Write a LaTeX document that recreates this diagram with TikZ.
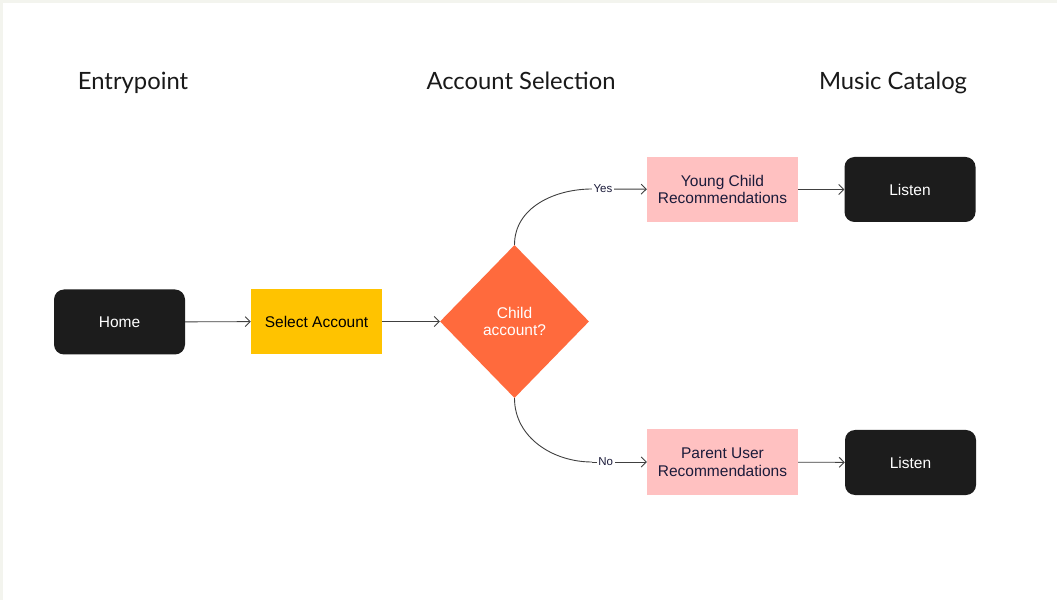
\documentclass[tikz,border=0pt]{standalone}
\usepackage{fontspec}
\setmainfont{Liberation Sans}
\newfontfamily\headfont{Lato}
\usetikzlibrary{arrows.meta,shapes.geometric}

\definecolor{frame}{HTML}{F3F4EE}
\definecolor{darkbox}{HTML}{1C1C1C}
\definecolor{yellowbox}{HTML}{FFC300}
\definecolor{orangebox}{HTML}{FF6A3D}
\definecolor{pinkbox}{HTML}{FFC1C1}
\definecolor{navy}{HTML}{1B1B3A}
\definecolor{wire}{HTML}{404040}

\tikzset{
  heading/.style={anchor=base, font=\headfont\fontsize{23.8}{28}\selectfont, text=black!90},
  blackbox/.style={fill=darkbox, rounded corners=10pt, minimum width=131pt, minimum height=65pt, text=white, font=\fontsize{15.5}{18}\selectfont},
  recbox/.style={fill=pinkbox, minimum width=151pt, minimum height=65pt, text=navy, align=center, font=\fontsize{15.5}{17.5}\selectfont},
  wirearrow/.style={draw=wire, line width=0.9pt, -{Straight Barb[length=5pt,width=10pt]}},
  lab/.style={fill=white, inner sep=1.5pt, text=navy, font=\fontsize{11.5}{13}\selectfont}
}

\begin{document}
\begin{tikzpicture}[x=1pt,y=1pt]
\fill[frame] (0,0) rectangle (1057,600);
\fill[white] (3,0) rectangle (1057,597);

\node[heading] (hentry) at (133,510) {Entrypoint};
\node[heading] (hselect) at (521,510) {Account Selection};
\node[heading] (hmusic) at (893,510) {Music Catalog};

\node[blackbox] (home) at (119.5,278) {Home};
\node[fill=yellowbox, minimum width=131pt, minimum height=65pt, text=black, font=\fontsize{15.5}{18}\selectfont] (select) at (316.5,278.5) {Select Account};
\node[diamond, fill=orangebox, minimum width=149pt, minimum height=153pt, inner sep=0pt, text=white, align=center, font=\fontsize{15.5}{17.5}\selectfont] (child) at (514.5,278.5) {Child\\account?};

\node[recbox] (young) at (722.5,410.5) {Young Child\\Recommendations};
\node[recbox] (parent) at (722.5,138) {Parent User\\Recommendations};
\node[blackbox] (listen1) at (910,410.5) {Listen};
\node[blackbox] (listen2) at (910.5,137.5) {Listen};

\coordinate (yesbend) at (592,411);
\coordinate (nobend) at (592,138);

\draw[wirearrow] (home) -- (select);
\draw[wirearrow] (select) -- (child);
\draw[draw=wire, line width=0.9pt] (child.north) to[out=90,in=180] (yesbend);
\draw[wirearrow] (yesbend) -- node[lab, pos=0.2] {Yes} (young);
\draw[draw=wire, line width=0.9pt] (child.south) to[out=-90,in=180] (nobend);
\draw[wirearrow] (nobend) -- node[lab, pos=0.25] {No} (parent);
\draw[wirearrow] (young) -- (listen1);
\draw[wirearrow] (parent) -- (listen2);
\end{tikzpicture}
\end{document}
